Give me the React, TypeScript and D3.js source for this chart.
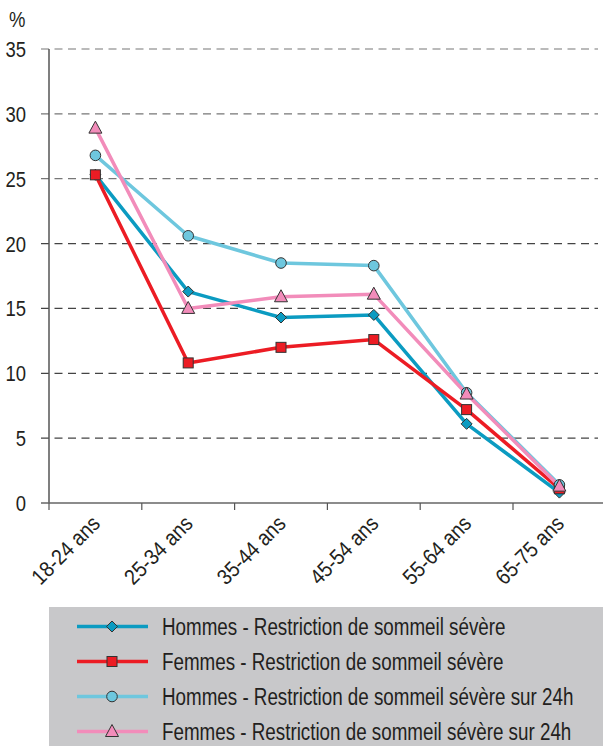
import React from "react";
import * as d3 from "d3";

const categories = ["18-24 ans", "25-34 ans", "35-44 ans", "45-54 ans", "55-64 ans", "65-75 ans"];
const hommesSevere = [25.3, 16.3, 14.3, 14.5, 6.1, 0.8];
const femmesSevere = [25.3, 10.8, 12.0, 12.6, 7.2, 1.1];
const hommes24h = [26.8, 20.6, 18.5, 18.3, 8.5, 1.4];
const femmes24h = [28.9, 15.0, 15.9, 16.1, 8.4, 1.3];
const yTicks = [0, 5, 10, 15, 20, 25, 30, 35];

const series = [
  { name: "Hommes - Restriction de sommeil sévère", values: hommesSevere, color: "#0b9bc1", marker: "diamond" },
  { name: "Femmes - Restriction de sommeil sévère", values: femmesSevere, color: "#ec1c24", marker: "square" },
  { name: "Hommes - Restriction de sommeil sévère sur 24h", values: hommes24h, color: "#6ec7de", marker: "circle" },
  { name: "Femmes - Restriction de sommeil sévère sur 24h", values: femmes24h, color: "#f28cba", marker: "triangle" },
];

const W = 603;
const H = 746;
const font = "'Liberation Sans', Arial, sans-serif";

// condensed text: Liberation Sans squeezed horizontally
const T = ({ tr, sx = 0.84, size = 22, anchor = "start", dy = "0", children }: any) => (
  <text transform={`${tr} scale(${sx},1)`} fontSize={size} textAnchor={anchor} dy={dy} fill="#231f20">
    {children}
  </text>
);

const Marker = ({ type, x, y, fill }: { type: string; x: number; y: number; fill: string }) => {
  const common = { fill, stroke: "#333", strokeWidth: 1 };
  if (type === "diamond") {
    const r = 5.5;
    return <path d={`M${x},${y - r}L${x + r},${y}L${x},${y + r}L${x - r},${y}Z`} {...common} />;
  }
  if (type === "square") return <rect x={x - 5} y={y - 5} width={10} height={10} {...common} />;
  if (type === "circle") return <circle cx={x} cy={y} r={5.3} {...common} />;
  return <path d={`M${x},${y - 7}L${x + 6.5},${y + 5}L${x - 6.5},${y + 5}Z`} {...common} />;
};

export default function App() {
  const left = 49;
  const x = d3.scaleBand<string>().domain(categories).range([left, left + 6 * 92.8]);
  const y = d3.scaleLinear().domain([0, 35]).range([503, 49]);
  const cx = (c: string) => (x(c) as number) + x.bandwidth() / 2;
  const line = d3
    .line<number>()
    .x((_, i) => cx(categories[i]))
    .y((d) => y(d));

  const legendRows = d3.scaleBand<string>().domain(series.map((s) => s.name)).range([609, 749]);

  return (
    <svg width={W} height={H} style={{ position: "absolute", left: 0, top: 0, background: "#fff" }} fontFamily={font}>
      <T tr="translate(9,27)">%</T>
      {yTicks.map((t) => (
        <g key={t}>
          {t > 0 && (
            <line x1={41} x2={598} y1={y(t)} y2={y(t)} stroke={t >= 25 ? "#777" : "#444"} strokeWidth={1.2} strokeDasharray="8,5.5" />
          )}
          <T tr={`translate(26,${y(t) + 8})`} anchor="end">{t}</T>
        </g>
      ))}
      <line x1={left} x2={left} y1={y(35)} y2={y(0)} stroke="#555" strokeWidth={1.5} />
      <line x1={41} x2={W} y1={y(0)} y2={y(0)} stroke="#666" strokeWidth={1.5} />
      {categories.map((c) => (
        <g key={c}>
          <line x1={x(c)} x2={x(c)} y1={y(0)} y2={y(0) + 7} stroke="#555" strokeWidth={1.2} />
          <T tr={`translate(${cx(c) + 6},${y(0) + 22}) rotate(-45)`} anchor="end" sx={0.88}>
            {c}
          </T>
        </g>
      ))}
      {series.map((s) => (
        <path key={s.name} d={line(s.values) || ""} fill="none" stroke={s.color} strokeWidth={3.5} strokeLinejoin="round" />
      ))}
      {series.map((s) => (
        <g key={s.name + "m"}>
          {s.values.map((v, i) => (
            <Marker key={i} type={s.marker} x={cx(categories[i])} y={y(v)} fill={s.color} />
          ))}
        </g>
      ))}
      <rect x={left} y={607} width={W - left} height={H - 607} fill="#c8c8ca" />
      {series.map((s) => {
        const ry = (legendRows(s.name) as number) + legendRows.bandwidth() / 2;
        return (
          <g key={s.name + "l"}>
            <line x1={77} x2={148} y1={ry} y2={ry} stroke={s.color} strokeWidth={3.5} />
            <Marker type={s.marker} x={112} y={ry} fill={s.color} />
            <T tr={`translate(162,${ry + 8.5})`} size={23.5} sx={0.8}>{s.name}</T>
          </g>
        );
      })}
    </svg>
  );
}
